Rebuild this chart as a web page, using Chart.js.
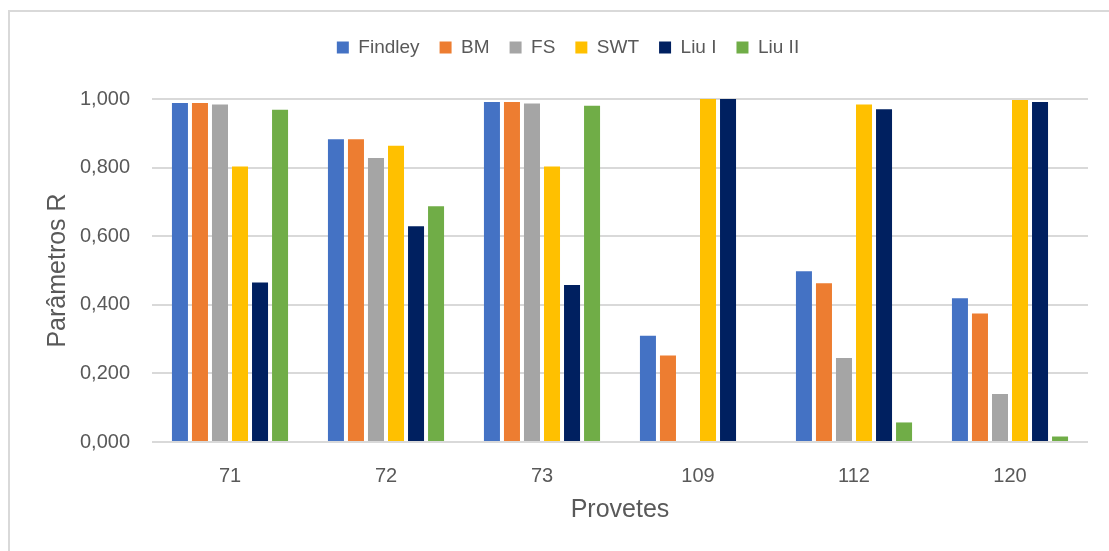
<!DOCTYPE html>
<html>
<head>
<meta charset="utf-8">
<script src="https://cdn.jsdelivr.net/npm/chart.js@4/dist/chart.umd.min.js"></script>
<style>
  html, body { margin: 0; padding: 0; background: #ffffff; overflow: hidden; }
  #wrap { position: relative; width: 1109px; height: 551px; overflow: hidden; }
  #frame { position: absolute; left: 8px; top: 10px; width: 1200px; height: 700px; border: 2px solid #d9d9d9; box-sizing: border-box; }
  canvas { position: absolute; left: 0; top: 0; }
</style>
</head>
<body>
<div id="wrap">
  <div id="frame"></div>
  <canvas id="c" width="1109" height="551"></canvas>
</div>
<script>
const categories = ['71', '72', '73', '109', '112', '120'];
const findley = [0.988, 0.883, 0.991, 0.310, 0.498, 0.419];
const bm      = [0.988, 0.883, 0.991, 0.252, 0.463, 0.375];
const fs      = [0.984, 0.828, 0.987, 0.000, 0.245, 0.140];
const swt     = [0.803, 0.864, 0.803, 1.000, 0.984, 0.997];
const liuI    = [0.465, 0.629, 0.458, 1.000, 0.970, 0.991];
const liuII   = [0.969, 0.687, 0.980, 0.000, 0.057, 0.016];
const seriesNames = ['Findley', 'BM', 'FS', 'SWT', 'Liu I', 'Liu II'];
const seriesColors = ['#4472C4', '#ED7D31', '#A5A5A5', '#FFC000', '#002060', '#70AD47'];
const seriesValues = [findley, bm, fs, swt, liuI, liuII];

const FONT = "'Liberation Sans', Arial, sans-serif";
const TEXT = '#595959';

const legendHeightPlugin = {
  id: 'legendHeight',
  beforeInit(chart) {
    const origFit = chart.legend.fit;
    chart.legend.fit = function () {
      origFit.bind(chart.legend)();
      this.height = 81;
    };
  },
  afterLayout(chart) {
    chart.legend.left += 48;
  }
};

new Chart(document.getElementById('c'), {
  type: 'bar',
  data: {
    labels: categories,
    datasets: seriesNames.map((n, i) => ({
      label: n,
      data: seriesValues[i],
      backgroundColor: seriesColors[i],
      borderWidth: 0,
      barPercentage: 0.8,
      categoryPercentage: 0.77
    }))
  },
  plugins: [legendHeightPlugin],
  options: {
    responsive: false,
    animation: false,
    devicePixelRatio: 1,
    layout: { padding: { left: 0, right: 21, top: 18, bottom: 0 } },
    plugins: {
      tooltip: { enabled: false },
      legend: {
        position: 'top',
        labels: {
          boxWidth: 12,
          boxHeight: 12,
          padding: 20,
          color: TEXT,
          font: { family: FONT, size: 19 }
        }
      }
    },
    scales: {
      x: {
        grid: { display: false, drawTicks: false },
        border: { display: false },
        ticks: { color: TEXT, padding: 22, font: { family: FONT, size: 20 } },
        title: {
          display: true,
          text: 'Provetes',
          color: TEXT,
          font: { family: FONT, size: 25 },
          padding: { top: 0, bottom: 26 }
        },
        afterFit(scale) { scale.height = 109; }
      },
      y: {
        min: 0,
        max: 1,
        ticks: {
          stepSize: 0.2,
          color: TEXT,
          padding: 22,
          font: { family: FONT, size: 20 },
          callback: (v) => Number(v).toFixed(3).replace('.', ',')
        },
        grid: { color: '#d9d9d9', lineWidth: 2, drawTicks: false },
        border: { display: false },
        title: {
          display: true,
          text: 'Parâmetros R',
          color: TEXT,
          font: { family: FONT, size: 25 },
          padding: { top: 43, bottom: 0 }
        },
        afterFit(scale) { scale.width = 152; }
      }
    }
  }
});
</script>
</body>
</html>
